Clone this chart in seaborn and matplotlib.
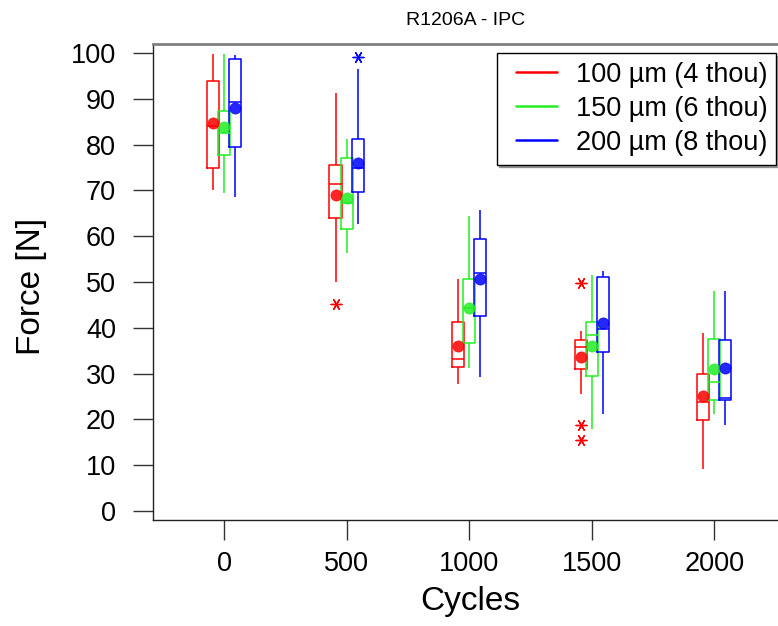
import numpy as np
import pandas as pd
import matplotlib
matplotlib.use("Agg")
import matplotlib.pyplot as plt
import seaborn as sns
from matplotlib.lines import Line2D
from matplotlib.legend_handler import HandlerLine2D

# ---------------- data ----------------
cycles = [0, 500, 1000, 1500, 2000]
series = ["100 µm (4 thou)", "150 µm (6 thou)", "200 µm (8 thou)"]

# five-number summaries per cycle: [whisker low, Q1, median, Q3, whisker high]
box_100 = [[70.2, 75.0, 84.0, 94.0, 99.8],
           [49.9, 64.0, 71.5, 75.5, 91.2],
           [27.7, 31.4, 33.1, 41.3, 50.7],
           [25.5, 31.0, 35.8, 37.3, 39.2],
           [9.2, 19.8, 23.7, 29.8, 38.8]]
box_150 = [[69.5, 77.7, 82.5, 87.3, 99.9],
           [56.3, 61.6, 67.2, 77.0, 81.2],
           [31.2, 36.6, 44.3, 50.7, 64.4],
           [17.9, 29.4, 38.4, 41.2, 51.5],
           [21.2, 24.3, 28.1, 37.6, 48.0]]
box_200 = [[68.5, 79.5, 89.4, 98.8, 99.6],
           [62.7, 69.6, 75.0, 81.2, 96.5],
           [29.2, 42.6, 51.9, 59.3, 65.7],
           [21.1, 34.7, 39.7, 51.2, 52.3],
           [18.7, 24.3, 24.6, 37.3, 48.0]]

mean_100 = [84.8, 69.0, 36.0, 33.6, 25.0]
mean_150 = [83.8, 68.3, 44.4, 36.1, 30.9]
mean_200 = [88.1, 76.1, 50.6, 41.1, 31.3]

out_100_cycles = [500, 1500, 1500, 1500]
out_100_force = [45.1, 49.7, 18.8, 15.5]
out_150_cycles = []
out_150_force = []
out_200_cycles = [500]
out_200_force = [99.1]

yticks = list(range(0, 101, 10))

# ---------------- style ----------------
colors = ["#ff0000", "#22ee22", "#0000ff"]
offsets = [-45, 0, 45]

sns.set_style("white")
plt.rcParams["font.family"] = ["Liberation Sans", "DejaVu Sans"]
plt.rcParams["text.color"] = "black"
plt.rcParams["axes.labelcolor"] = "black"
plt.rcParams["xtick.color"] = "black"
plt.rcParams["ytick.color"] = "black"

fig = plt.figure(figsize=(7.78, 6.26), dpi=100)
ax = fig.add_axes([153 / 778, 1 - 520 / 626, (778 - 153) / 778, (520 - 44) / 626])

boxes = [box_100, box_150, box_200]
means = [mean_100, mean_150, mean_200]
outs = [(out_100_cycles, out_100_force), (out_150_cycles, out_150_force),
        (out_200_cycles, out_200_force)]

for name, bx, mn, (oc, of), col, off in zip(series, boxes, means, outs, colors, offsets):
    rows = []
    for c, five in zip(cycles, bx):
        for v in five:
            rows.append((c + off, v))
    df = pd.DataFrame(rows, columns=["pos", "force"])
    sns.boxplot(data=df, x="pos", y="force", native_scale=True, width=0.1,
                whis=(0, 100), fill=False, color=col, saturation=1,
                linewidth=1.1, showcaps=False, ax=ax)
    sns.scatterplot(x=np.array(cycles) + off, y=mn, color=col, s=65,
                    edgecolor=col, linewidth=0.5, alpha=0.85, zorder=5,
                    ax=ax, legend=False)
    if len(oc):
        sns.scatterplot(x=np.array(oc) + off, y=of, color=col,
                        marker=(6, 2, 90), s=60, linewidth=1.0, zorder=5,
                        ax=ax, legend=False)

ax.set_xlim(-290, 2260)
ax.set_ylim(-2, 102)
ax.set_xticks(cycles)
ax.set_xticklabels([str(c) for c in cycles])
ax.set_yticks(yticks)
ax.set_yticklabels([str(t) for t in yticks])

ax.tick_params(axis="both", direction="out", length=14.5, width=1.0,
               color="#333333", labelsize=19.5, labelcolor="black")
ax.tick_params(axis="x", pad=8)
ax.tick_params(axis="y", pad=12)
ax.tick_params(bottom=True, left=True)

ax.set_xlabel("Cycles", fontsize=24)
ax.set_ylabel("Force [N]", fontsize=24)
ax.xaxis.set_label_coords(0.507, -0.138)
ax.yaxis.set_label_coords(-0.17, 0.49)
ax.set_title("R1206A - IPC", fontsize=14, pad=14)

for s in ["left", "bottom"]:
    ax.spines[s].set_color("#222222")
    ax.spines[s].set_linewidth(1.0)
ax.spines["top"].set_color("#808080")
ax.spines["top"].set_linewidth(2.0)
ax.spines["right"].set_visible(False)


class ShiftedLineHandler(HandlerLine2D):
    """Legend line drawn in the right part of a wider handle box."""
    def create_artists(self, legend, orig_handle, xdescent, ydescent,
                       width, height, fontsize, trans):
        shift = 0.4 * fontsize
        artists = super().create_artists(legend, orig_handle, xdescent - shift,
                                         ydescent, width - shift, height,
                                         fontsize, trans)
        return artists


handles = [Line2D([0], [0], color=c, lw=1.8) for c in colors]
leg = ax.legend(handles, series, loc="upper right",
                bbox_to_anchor=(0.9968, 0.981), borderaxespad=0,
                fontsize=19.5, frameon=True, fancybox=False, shadow=True,
                handlelength=1.9, handletextpad=0.7, labelspacing=0.3,
                borderpad=0.32,
                handler_map={Line2D: ShiftedLineHandler()})
leg.get_frame().set_edgecolor("black")
leg.get_frame().set_linewidth(1.0)

fig.savefig("out.png", dpi=100)
